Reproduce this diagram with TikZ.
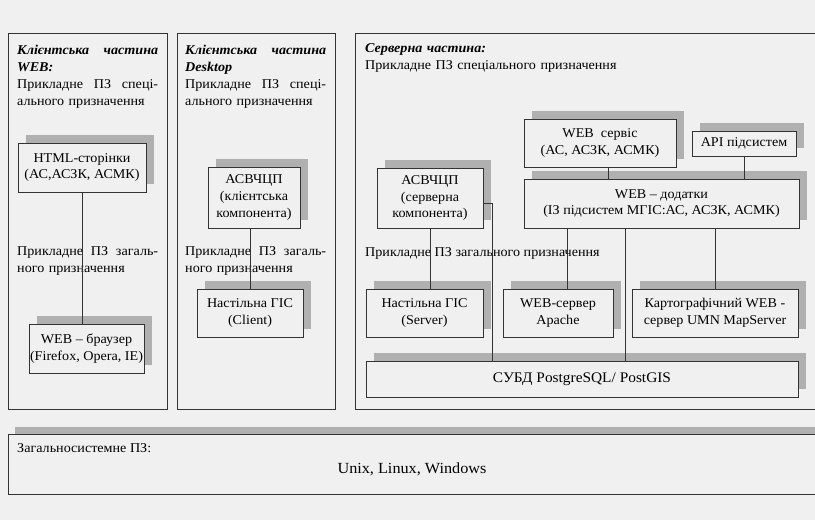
\documentclass[tikz,border=0pt]{standalone}
\usepackage{fontspec}
\setmainfont{Liberation Serif}[FakeStretch=1.05]
\usetikzlibrary{shadows}
\definecolor{pagegray}{HTML}{F0F0F0}
\definecolor{shadegray}{HTML}{B0B0B0}
\definecolor{linegray}{HTML}{333333}
\begin{document}
\begin{tikzpicture}[x=1bp,y=-1bp,
    every node/.style={font=\fontsize{13.5}{17}\selectfont},
    box/.style 2 args={draw=linegray,line width=.8bp,fill=pagegray,align=center,
      minimum width=#1bp,minimum height=#2bp,inner sep=1bp,
      drop shadow={shadow xshift=8bp,shadow yshift=8bp,fill=shadegray,opacity=1}},
    ptext/.style={anchor=base west,align=left,inner sep=0pt},
    panel/.style={draw=linegray,line width=1bp},
    link/.style={draw=linegray,line width=.8bp}]
  \fill[pagegray] (0,0) rectangle (815,520);
  \useasboundingbox (0,0) rectangle (815,520);
  \draw[panel] (8,34) rectangle (167,409);
  \draw[panel] (177,34) rectangle (335,409);
  \draw[panel] (815,34) -| (355,409) -- (815,409);
  \fill[shadegray] (15,427) rectangle (815,434);
  \draw[panel] (815,434) -- (8,434) |- (815,494);

  \node[ptext,text width=141bp] (webhead) at (17,55) {\textbf{\textit{Клієнтська\hfill частина}}\\\textbf{\textit{WEB:}}\\Прикладне\hfill ПЗ\hfill спеці-\\ального призначення};
  \node[ptext,text width=141bp] (webgen) at (17,256) {Прикладне\hfill ПЗ\hfill загаль-\\ного призначення};
  \node[ptext,text width=141bp] (deskhead) at (185,55) {\textbf{\textit{Клієнтська\hfill частина}}\\\textbf{\textit{Desktop}}\\Прикладне\hfill ПЗ\hfill спеці-\\ального призначення};
  \node[ptext,text width=141bp] (deskgen) at (185,256) {Прикладне\hfill ПЗ\hfill загаль-\\ного призначення};
  \node[ptext,text width=300bp] (srvhead) at (365,52.5) {\textbf{\textit{Серверна частина:}}\\Прикладне ПЗ спеціального призначення};
  \node[ptext] (srvgen) at (365,256.5) {Прикладне ПЗ загального призначення};
  \node[ptext] (oshead) at (17,452.5) {Загальносистемне ПЗ:};
  \node (oslist) at (412,469) {\fontsize{15.5}{17}\selectfont Unix, Linux, Windows};

  \node[box={128}{49}] (html) at (82,167.5) {HTML-сторінки\\(АС,АСЗК, АСМК)};
  \node[box={115}{49}] (browser) at (86.5,348.5) {WEB – браузер\\(Firefox, Opera, IE)};
  \node[box={92}{61}] (asvc) at (254,197.5) {АСВЧЦП\\(клієнтська\\компонента)};
  \node[box={106}{48}] (gisc) at (250,313) {Настільна ГІС\\(Client)};
  \node[box={152}{48}] (websrv) at (600,143) {WEB\ \ сервіс\\(АС, АСЗК, АСМК)};
  \node[box={104}{25}] (api) at (744,143.5) {API підсистем};
  \node[box={275}{49}] (webapp) at (661.5,203.5) {WEB – додатки\\(ІЗ підсистем МГІС:АС, АСЗК, АСМК)};
  \node[box={106}{60}] (asvs) at (430,198) {АСВЧЦП\\(серверна\\компонента)};
  \node[box={117}{48}] (giss) at (424.5,313) {Настільна ГІС\\(Server)};
  \node[box={110}{48}] (apache) at (558,313) {WEB-сервер\\Apache};
  \node[box={166}{48}] (mapsrv) at (715,313) {Картографічний WEB -\\сервер UMN MapServer};
  \node[box={432}{36}] (dbms) at (582,379) {\fontsize{14.7}{17}\selectfont СУБД PostgreSQL/ PostGIS};

  \coordinate (websrvfoot) at ([xshift=8bp]websrv.south);
  \coordinate (apachehead) at ([xshift=9bp]apache.north);
  \coordinate (webappfoot) at ([xshift=-36.5bp]webapp.south);
  \draw[link] (html.south) -- (html.south |- browser.north);
  \draw[link] (asvc.south -| gisc.north) -- (gisc.north);
  \draw[link] (websrvfoot) -- (websrvfoot |- webapp.north);
  \draw[link] (api.south) -- (api.south |- webapp.north);
  \draw[link] (asvs.south) -- (asvs.south |- giss.north);
  \draw[link] ([yshift=-5bp]asvs.east) -| ([xshift=-90bp]dbms.north);
  \draw[link] (apachehead |- webapp.south) -- (apachehead);
  \draw[link] (mapsrv.north |- webapp.south) -- (mapsrv.north);
  \draw[link] (webappfoot) -- (webappfoot |- dbms.north);
\end{tikzpicture}
\end{document}
